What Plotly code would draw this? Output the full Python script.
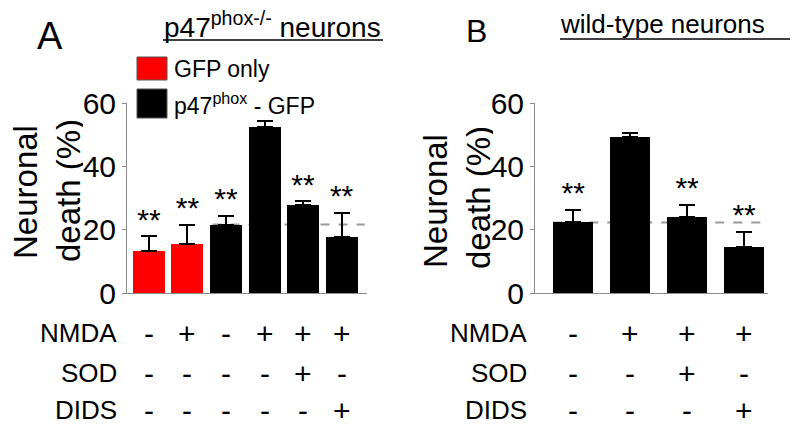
import plotly.graph_objects as go

# Panel A: p47phox-/- neurons
a_means = [13.4, 15.6, 21.6, 52.3, 27.9, 17.7]
a_err = [4.5, 5.8, 2.8, 2.1, 1.0, 7.6]
a_group = ["GFP only", "GFP only", "p47", "p47", "p47", "p47"]
a_sig = ["**", "**", "**", "", "**", "**"]
a_nmda = ["-", "+", "-", "+", "+", "+"]
a_sod = ["-", "-", "-", "-", "+", "-"]
a_dids = ["-", "-", "-", "-", "-", "+"]

# Panel B: wild-type neurons
b_means = [22.3, 49.4, 23.9, 14.6]
b_err = [3.9, 1.2, 4.0, 4.8]
b_sig = ["**", "", "**", "**"]
b_nmda = ["-", "+", "+", "+"]
b_sod = ["-", "-", "+", "-"]
b_dids = ["-", "-", "-", "+"]

row_names = ["NMDA", "SOD", "DIDS"]
y_ticks = [0, 20, 40, 60]

# the page body keeps its default 8px margin, so the figure is a bit smaller
PAGE_MARGIN = 8
W, H = 800 - 2 * PAGE_MARGIN, 434 - 2 * PAGE_MARGIN
FONT = "Liberation Sans, Arial, sans-serif"
GROUP_COLORS = {"GFP only": "#ff0000", "p47": "#000000"}
AXIS_GRAY = "#8c8c8c"
STAR_OFFSET = 4.5


def xp(px):
    return (px - PAGE_MARGIN) / W


def yp(py):
    return 1 - (py - PAGE_MARGIN) / H


fig = go.Figure()


def add_panel(means, err, colors, sig, xa, ya, width):
    n = len(means)
    fig.add_trace(
        go.Bar(
            x=list(range(n)),
            y=means,
            width=width,
            marker=dict(color=colors, line=dict(width=0)),
            error_y=dict(
                type="data",
                symmetric=False,
                array=err,
                arrayminus=[0] * n,
                color="black",
                thickness=2,
                width=8,
            ),
            xaxis=xa,
            yaxis=ya,
            showlegend=False,
        )
    )
    # significance stars, only where marked
    idx = [i for i in range(n) if sig[i]]
    fig.add_trace(
        go.Scatter(
            x=idx,
            y=[means[i] + err[i] + STAR_OFFSET for i in idx],
            text=[sig[i] for i in idx],
            mode="text",
            textposition="middle center",
            textfont=dict(family=FONT, size=30, color="black"),
            xaxis=xa,
            yaxis=ya,
            showlegend=False,
            cliponaxis=False,
        )
    )


add_panel(a_means, a_err, [GROUP_COLORS[g] for g in a_group], a_sig, "x", "y", 0.83)
add_panel(b_means, b_err, ["#000000"] * len(b_means), b_sig, "x2", "y2", 0.70)

# dashed reference lines at control level
fig.add_shape(type="line", xref="x", yref="y", x0=1.65, x1=5.6,
              y0=a_means[2], y1=a_means[2],
              line=dict(color="#999999", width=2, dash="dash"), layer="below")
fig.add_shape(type="line", xref="x2", yref="y2", x0=-0.35, x1=3.4,
              y0=b_means[0], y1=b_means[0],
              line=dict(color="#999999", width=2, dash="dash"), layer="below")

axis_common = dict(showgrid=False, zeroline=False, showline=True, automargin=False,
                   linecolor=AXIS_GRAY, linewidth=1, fixedrange=True)
y_common = dict(axis_common, range=[0, 60], tickvals=y_ticks, ticks="outside",
                ticklen=4, tickcolor=AXIS_GRAY,
                tickfont=dict(family=FONT, size=30, color="black"))
y_dom = [yp(293), yp(103)]

fig.update_layout(
    template="none",
    autosize=False,
    width=W,
    height=H,
    margin=dict(l=0, r=0, t=0, b=0, pad=0),
    paper_bgcolor="white",
    plot_bgcolor="white",
    xaxis=dict(axis_common, domain=[xp(127), xp(367)], range=[-0.57, 5.66],
               showticklabels=False, ticks=""),
    yaxis=dict(y_common, domain=y_dom, anchor="x"),
    xaxis2=dict(axis_common, domain=[xp(535), xp(768)], range=[-0.67, 3.42],
                showticklabels=False, ticks="", anchor="y2"),
    yaxis2=dict(y_common, domain=y_dom, anchor="x2"),
    bargap=0,
)

anns = []


def text(x, y, s, size, xanchor="center", yanchor="middle", angle=0,
         xref="paper", **kw):
    anns.append(dict(x=x, y=y, xref=xref, yref="paper", text=s,
                     showarrow=False, xanchor=xanchor, yanchor=yanchor,
                     textangle=angle,
                     font=dict(family=FONT, size=size, color="black"), **kw))


# panel letters and titles
text(xp(50), yp(36), "A", 38)
text(xp(476), yp(31), "B", 32)
text(xp(162), yp(25), "p47<sup>phox-/-</sup> neurons", 28, xanchor="left")
text(xp(558), yp(24), "wild-type neurons", 26, xanchor="left")
fig.add_shape(type="line", xref="paper", yref="paper", x0=xp(163), x1=xp(383),
              y0=yp(40), y1=yp(40), line=dict(color="black", width=1.5))
fig.add_shape(type="line", xref="paper", yref="paper", x0=xp(560), x1=xp(790),
              y0=yp(39), y1=yp(39), line=dict(color="black", width=1.5))

# legend
for (top, bot), color, label in [((57, 80), "#ff0000", "GFP only"),
                                 ((89, 118), "#000000", "p47<sup>phox</sup> - GFP")]:
    fig.add_shape(type="rect", xref="paper", yref="paper", x0=xp(137), x1=xp(167),
                  y0=yp(bot), y1=yp(top), fillcolor=color,
                  line=dict(color="#555555", width=1))
    text(xp(172), yp((top + bot) / 2), label, 23, xanchor="left")

# y-axis titles (box kept narrow so it stays inside the page)
text(xp(25), yp(192), "Neuronal", 33, angle=-90, height=30)
text(xp(68), yp(191), "death (%)", 33, angle=-90, height=30)
text(xp(435), yp(201), "Neuronal", 33, angle=-90, height=30)
text(xp(478), yp(198), "death (%)", 33, angle=-90, height=30)

# treatment table
row_y = [333, 373, 410]
for name, ry, a_row, b_row in zip(row_names, row_y,
                                  [a_nmda, a_sod, a_dids],
                                  [b_nmda, b_sod, b_dids]):
    text(xp(119), yp(ry), name, 26, xanchor="right")
    text(xp(529), yp(ry), name, 26, xanchor="right")
    for i, s in enumerate(a_row):
        text(i, yp(ry), s, 30, xref="x")
    for i, s in enumerate(b_row):
        text(i, yp(ry), s, 30, xref="x2")

fig.update_layout(annotations=anns)

fig.write_html("out.html")
